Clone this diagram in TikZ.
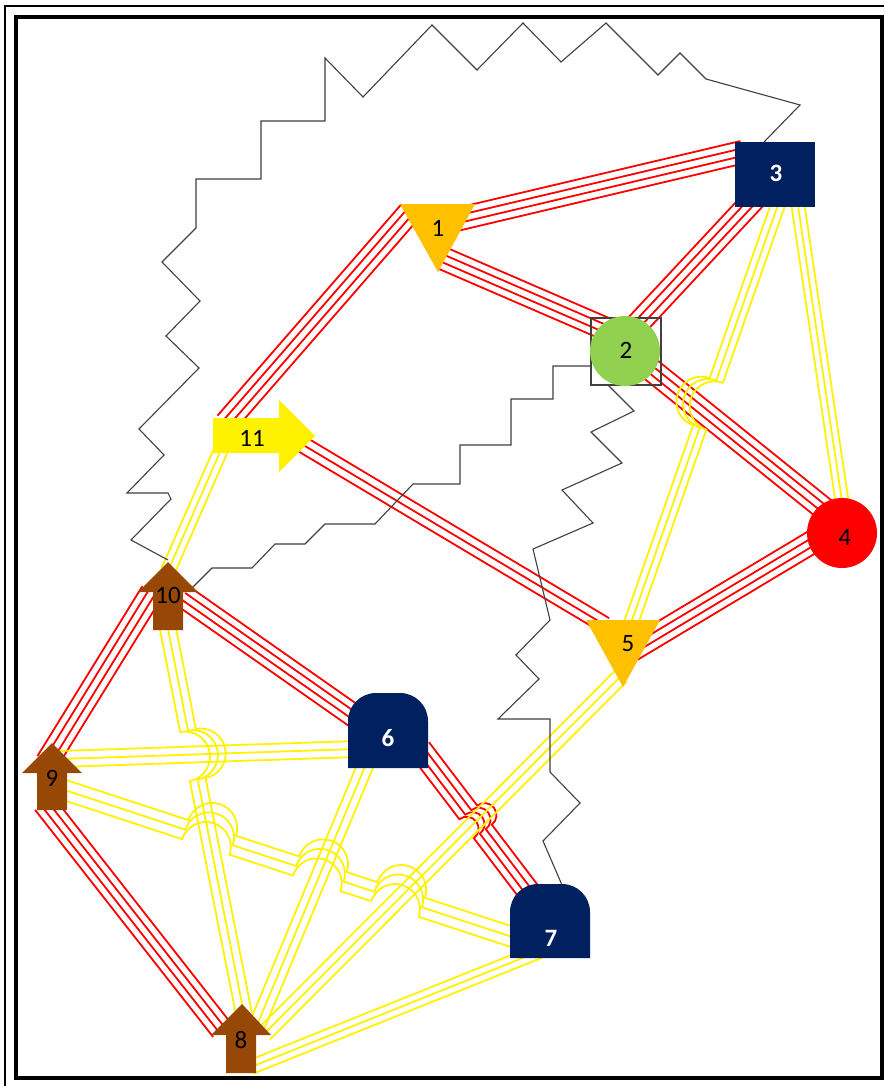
\documentclass[tikz,border=0pt]{standalone}
\usepackage{fontspec}
\setmainfont{Carlito}
\usetikzlibrary{calc}
\definecolor{navy}{HTML}{002060}
\definecolor{gold}{HTML}{FFC000}
\definecolor{lgreen}{HTML}{92D050}
\definecolor{brownA}{HTML}{974806}
\definecolor{zig}{HTML}{404040}
\pgfdeclarelayer{bg}
\pgfdeclarelayer{links}
\pgfsetlayers{bg,links,main}
\tikzset{
  rl/.style={draw=red, line width=1.8pt},
  yl/.style={draw=yellow, line width=1.8pt},
  zz/.style={draw=zig, line width=1.1pt, line join=miter},
  lbl/.style={inner sep=0pt, font=\fontsize{25}{25}\selectfont},
  wlbl/.style={inner sep=0pt, text=white, font=\fontsize{25}{25}\selectfont\bfseries}
}
% bundle of parallel lines: style, count, spacing, start, end, jumps (t/r/side)
\newcommand\bundle[6]{%
  \path #4; \pgfgetlastxy{\bAx}{\bAy}%
  \path #5; \pgfgetlastxy{\bBx}{\bBy}%
  \pgfmathsetmacro\bdx{\bBx-\bAx}%
  \pgfmathsetmacro\bdy{\bBy-\bAy}%
  \pgfmathsetmacro\bL{10*veclen(\bdx/10,\bdy/10)}%
  \pgfmathsetmacro\bux{\bdx/\bL}%
  \pgfmathsetmacro\buy{\bdy/\bL}%
  \pgfmathsetmacro\bth{atan2(\bdy,\bdx)}%
  \def\bjumps{#6}%
  \foreach \bi in {1,...,#2}{%
    \pgfmathsetmacro\bO{(\bi-(#2+1)/2)*#3}%
    \pgfmathsetmacro\bSx{\bAx-\bO*\buy}%
    \pgfmathsetmacro\bSy{\bAy+\bO*\bux}%
    \pgfmathsetmacro\bEx{\bSx+\bL*\bux}%
    \pgfmathsetmacro\bEy{\bSy+\bL*\buy}%
    \ifx\bjumps\empty
      \draw[#1] (\bSx pt,\bSy pt) -- (\bEx pt,\bEy pt);
    \else
      \draw[#1] (\bSx pt,\bSy pt)
        \foreach \jt/\jr/\js in {#6}{
          -- ({(\bSx+(\jt*\bL-\jr)*\bux)*1pt},{(\bSy+(\jt*\bL-\jr)*\buy)*1pt})
          arc[start angle=\bth+180, delta angle=\js*180, radius=\jr*1pt]
        }
        -- (\bEx pt,\bEy pt);
    \fi
  }%
}
\begin{document}
\begin{tikzpicture}[x=1pt,y=-1pt]
\useasboundingbox (0,0) rectangle (884,1086);
\begin{pgfonlayer}{bg}
\fill[white] (0,0) rectangle (884,1086);
\end{pgfonlayer}
% frame
\draw[line width=2pt] (5,1086) -- (5,6) -- (884,6);
\draw[line width=4pt] (16,17) rectangle (882,1078);
% shapes
\fill[gold] (400,204) -- (475,204) -- (438,272) -- cycle;
\fill[gold] (586,620) -- (660,620) -- (623,687) -- cycle;
\draw[zig, line width=1.2pt] (591,318) rectangle (661,385);
\fill[lgreen] (625,351) circle[radius=35];
\fill[red] (842,533) circle[radius=35];
\fill[navy] (735,142) rectangle (815,207);
\fill[navy] (348,768) -- (348,721) arc[start angle=180, end angle=270, radius=28] -- (400,693) arc[start angle=270, end angle=360, radius=28] -- (428,768) -- cycle;
\fill[navy] (510,958) -- (510,912) arc[start angle=180, end angle=270, radius=28] -- (562,884) arc[start angle=270, end angle=360, radius=28] -- (590,958) -- cycle;
\fill[brownA] (242,1004) -- (271,1035) -- (256,1035) -- (256,1073) -- (226,1073) -- (226,1035) -- (211,1035) -- cycle;
\fill[brownA] (52,743) -- (82,773) -- (67,773) -- (67,810) -- (37,810) -- (37,773) -- (22,773) -- cycle;
\fill[brownA] (168,562) -- (198,592) -- (183,592) -- (183,630) -- (153,630) -- (153,592) -- (138,592) -- cycle;
\fill[yellow] (213,418) -- (279,418) -- (279,400) -- (315,436) -- (279,472) -- (279,453) -- (213,453) -- cycle;
% labels
\node[lbl] (n1) at (438,228) {1};
\node[lbl] (n2) at (626,350) {2};
\node[wlbl] (n3) at (776,173) {3};
\node[lbl] (n4) at (845,537) {4};
\node[lbl] (n5) at (628,644) {5};
\node[wlbl] (n6) at (388,738) {6};
\node[wlbl] (n7) at (551,938) {7};
\node[lbl] (n8) at (241,1040) {8};
\node[lbl] (n9) at (52,778) {9};
\node[lbl] (n10) at (168,595) {10};
\node[lbl] (n11) at (252,438) {11};
\begin{pgfonlayer}{links}
% red bundles
\bundle{rl}{4}{7.5}{($(n1)+(17,-8)$)}{($(n3)+(-33,-21)$)}{}
\bundle{rl}{4}{7.5}{($(n1)+(4,30)$)}{($(n2)+(-13,-18)$)}{}
\bundle{rl}{4}{7.5}{($(n11)+(-26,-15)$)}{($(n1)+(-28,-16.5)$)}{}
\bundle{rl}{4}{7.5}{($(n2)+(7,-21)$)}{($(n3)+(-19,23)$)}{}
\bundle{rl}{4}{7.5}{($(n2)+(18,14)$)}{($(n4)+(-17,-25)$)}{}
\bundle{rl}{4}{7.5}{($(n4)+(-26,1)$)}{($(n5)+(4,6)$)}{}
\bundle{rl}{3}{8}{($(n11)+(48,5)$)}{($(n5)+(-23,-19)$)}{}
\bundle{rl}{4}{7.5}{($(n10)+(-16,-3)$)}{($(n9)+(-5,-16)$)}{}
\bundle{rl}{4}{7.5}{($(n10)+(15,1)$)}{($(n6)+(-28,-18)$)}{}
\bundle{rl}{4}{7.5}{($(n9)+(-8,25)$)}{($(n8)+(-19,-10)$)}{}
\bundle{rl}{4}{7.5}{($(n6)+(32,11)$)}{($(n7)+(-19,-42)$)}{0.496/12/-1}
% yellow bundles
\bundle{yl}{3}{7}{($(n3)+(4,26)$)}{($(n5)+(2,-18)$)}{0.48/25/1}
\bundle{yl}{3}{6.5}{($(n3)+(21,26)$)}{($(n4)+(-2,-29)$)}{}
\bundle{yl}{3}{7}{($(n11)+(-30,9.5)$)}{($(n10)+(0,-24)$)}{}
\bundle{yl}{3}{8}{($(n10)+(-1,29)$)}{($(n8)+(3,-26)$)}{0.336/25/-1}
\bundle{yl}{3}{8}{($(n9)+(8,-19)$)}{($(n6)+(-32,11)$)}{}
\bundle{yl}{3}{10}{($(n9)+(8,10.5)$)}{($(n7)+(-31,1.5)$)}{0.324/25/-1,0.565/25/-1,0.735/25/-1}
\bundle{yl}{3}{8}{($(n6)+(-21,23.5)$)}{($(n8)+(15,-12.5)$)}{}
\bundle{yl}{3}{8}{($(n5)+(-7,32)$)}{($(n8)+(23,-6)$)}{}
\bundle{yl}{3}{7}{($(n7)+(-11,13)$)}{($(n8)+(10,27)$)}{}
% zigzag connectors
\draw[zz] ($(n3)+(-12,-31)$) -- (800,105) -- (706,79) -- (680,53) -- (658,75) -- (606,23) -- (561,62) -- (523,23) -- (477,70) -- (432,25) -- (363,97) -- (325,58) -- (325,121) -- (261,121) -- (261,179) -- (196,179) -- (196,228) -- (162,262) -- (200,301) -- (166,336) -- (199,368) -- (139,429) -- (164,455) -- (127,493) -- (168,493) -- (171,499) -- (131,540) -- ($(n10)+(0,-35)$);
\draw[zz] ($(n10)+(24,-7)$) -- (212,568) -- (252,568) -- (275,544) -- (305,544) -- (325,524) -- (375,524) -- (413,484) -- (460,484) -- (460,445) -- (511,445) -- (511,399) -- (553,399) -- (553,366) -- ($(n2)+(-35,16)$);
\draw[zz] ($(n2)+(-18,35)$) -- (634,411) -- (591,432) -- (622,463) -- (562,490) -- (593,523) -- (533,549) -- (550,620) -- (516,655) -- (539,679) -- (498,719) -- (550,719) -- (550,772) -- (580,803) -- (543,841) -- ($(n7)+(11,-53)$);
\end{pgfonlayer}
\end{tikzpicture}
\end{document}
